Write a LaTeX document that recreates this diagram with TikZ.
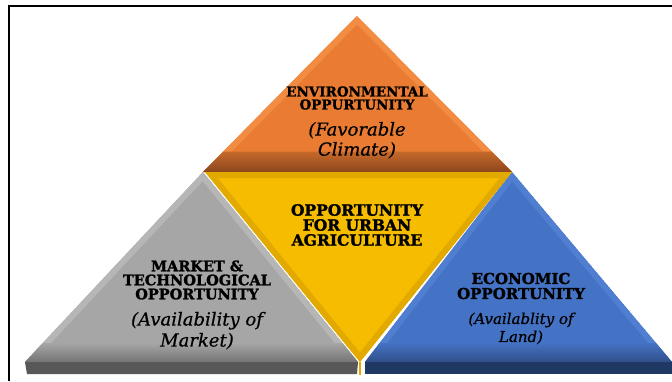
\documentclass[tikz,border=0pt]{standalone}
\usepackage{fontspec}
\setmainfont{DejaVu Serif}[BoldFeatures={FakeBold=1.5}, ItalicFeatures={FakeBold=0.6}]
\usetikzlibrary{positioning,calc}
\definecolor{envface}{RGB}{233,124,50}
\definecolor{envedge}{RGB}{242,140,66}
\definecolor{envdark}{RGB}{140,70,30}
\definecolor{midface}{RGB}{245,188,0}
\definecolor{midedge}{RGB}{226,170,0}
\definecolor{mktface}{RGB}{166,166,166}
\definecolor{mktedge}{RGB}{182,182,182}
\definecolor{mktdark}{RGB}{88,88,88}
\definecolor{ecoface}{RGB}{68,114,196}
\definecolor{ecoedge}{RGB}{80,126,208}
\definecolor{ecodark}{RGB}{32,56,100}
\tikzstyle{title} = [align=center, inner sep=0pt, text=black]
\tikzstyle{subtitle} = [align=center, inner sep=0pt, text=black]
\tikzstyle{bevel} = [line width=12pt, line join=miter]

\begin{document}
\begin{tikzpicture}[x=1pt,y=-1pt]
\useasboundingbox (0,0) rectangle (672,381);
% corners of the four triangles
\coordinate (envA) at (357,16);
\coordinate (envB) at (203,172);
\coordinate (envC) at (512,172);
\coordinate (mktA) at (203,172);
\coordinate (mktB) at (25,362);
\coordinate (mktC) at (358,362);
\coordinate (ecoA) at (512,172);
\coordinate (ecoB) at (365,362);
\coordinate (ecoC) at (672,362);
\coordinate (midA) at (205,172);
\coordinate (midB) at (512,172);
\coordinate (midC) at (360,362);
% frame
\draw[line width=2.5pt] (9,381) -- (9,6) -- (672,6);
% environmental
\begin{scope}
\clip (envA) -- (envC) -- (envB) -- cycle;
\fill[envface] (envA) -- (envC) -- (envB) -- cycle;
\draw[bevel, envedge] (envA) -- (envC) -- (envB) -- cycle;
\shade[top color=envface!85!black, bottom color=envdark] ($(envA)!0.87!(envB)$) -- ($(envA)!0.87!(envC)$) -- (envC) -- (envB) -- cycle;
\end{scope}
% market
\begin{scope}
\clip (mktA) -- (mktC) -- (mktB) -- cycle;
\fill[mktface] (mktA) -- (mktC) -- (mktB) -- cycle;
\draw[bevel, mktedge] (mktA) -- (mktC) -- (mktB) -- cycle;
\shade[top color=mktface, bottom color=mktface!70!black] ($(mktA)!0.9!(mktB)$) -- ($(mktA)!0.9!(mktC)$) -- (mktC) -- (mktB) -- cycle;
\end{scope}
\fill[mktdark] (mktB) -- (mktC) -- (357,374) -- (27,374) -- cycle;
% economic
\begin{scope}
\clip (ecoA) -- (ecoC) -- (ecoB) -- cycle;
\fill[ecoface] (ecoA) -- (ecoC) -- (ecoB) -- cycle;
\draw[bevel, ecoedge] (ecoA) -- (ecoC) -- (ecoB) -- cycle;
\shade[top color=ecoface, bottom color=ecoface!70!black] ($(ecoA)!0.9!(ecoB)$) -- ($(ecoA)!0.9!(ecoC)$) -- (ecoC) -- (ecoB) -- cycle;
\end{scope}
\fill[ecodark] (ecoB) -- (ecoC) -- (672,374) -- (365,374) -- cycle;
% urban agriculture
\begin{scope}
\clip (midA) -- (midB) -- (midC) -- cycle;
\fill[midface] (midA) -- (midB) -- (midC) -- cycle;
\draw[bevel, midedge] (midA) -- (midB) -- (midC) -- cycle;
\end{scope}
\draw[midedge, line width=1.5pt] (midC) -- (360,375);
% texts
\node[title, font=\bfseries\fontsize{13.5}{13}\selectfont] (envtitle) at (357,98) {ENVIRONMENTAL\\OPPURTUNITY};
\node[subtitle, font=\itshape\fontsize{18}{20}\selectfont, below=12pt of envtitle] (envsub) {(Favorable\\Climate)};
\node[title, font=\bfseries\fontsize{15.5}{15}\selectfont] (midtitle) at (357,225) {OPPORTUNITY\\FOR URBAN\\AGRICULTURE};
\node[title, font=\bfseries\fontsize{14.5}{14}\selectfont] (mkttitle) at (197,280) {MARKET \&\\TECHNOLOGICAL\\OPPORTUNITY};
\node[subtitle, font=\itshape\fontsize{18}{21}\selectfont, below=12pt of mkttitle] (mktsub) {(Availability of\\Market)};
\node[title, font=\bfseries\fontsize{15}{15}\selectfont] (ecotitle) at (521,286) {ECONOMIC\\OPPORTUNITY};
\node[subtitle, font=\itshape\fontsize{15}{18}\selectfont, below=13pt of ecotitle] (ecosub) {(Availablity of\\Land)};
\end{tikzpicture}
\end{document}
